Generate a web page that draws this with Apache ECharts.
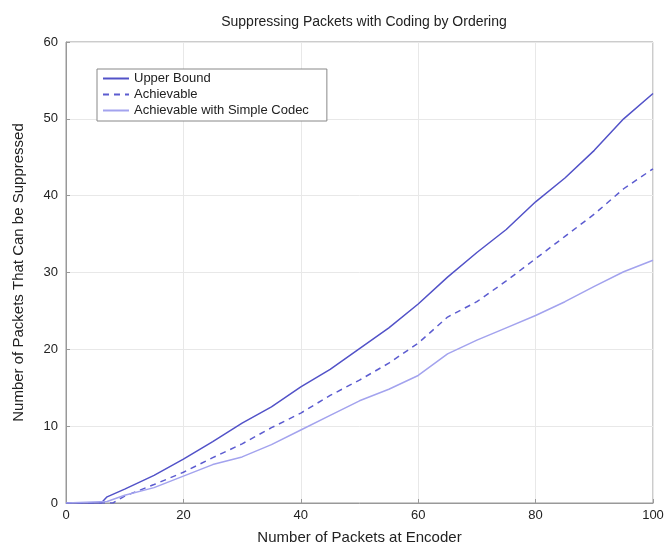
<!DOCTYPE html>
<html>
<head>
<meta charset="utf-8">
<script src="https://cdn.jsdelivr.net/npm/echarts@6/dist/echarts.min.js"></script>
<style>
  html, body { margin: 0; padding: 0; background: #fff; }
  #main { width: 668px; height: 554px; }
</style>
</head>
<body>
<div id="main"></div>
<script>
// packets at encoder -> packets that can be suppressed
var upperX = [0, 6, 7, 10, 15, 20, 25, 30, 35, 40, 45, 50, 55, 60, 65, 70, 75, 80, 85, 90, 95, 100];
var upperY = [0, 0, 0.8, 1.8, 3.6, 5.7, 8.0, 10.4, 12.5, 15.1, 17.4, 20.1, 22.8, 25.9, 29.4, 32.6, 35.6, 39.2, 42.3, 45.9, 50.0, 53.3];

var achX = [0, 8, 10, 15, 20, 25, 30, 35, 40, 45, 50, 55, 60, 65, 70, 75, 80, 85, 90, 95, 100];
var achY = [0, 0, 0.9, 2.4, 4.0, 5.9, 7.7, 9.8, 11.7, 14.0, 16.0, 18.2, 20.8, 24.2, 26.2, 28.9, 31.8, 34.7, 37.6, 40.9, 43.5];

var simpleX = [0, 7, 10, 15, 20, 25, 30, 35, 40, 45, 50, 55, 60, 65, 70, 75, 80, 85, 90, 95, 100];
var simpleY = [0, 0.2, 1.0, 2.0, 3.5, 5.0, 6.0, 7.6, 9.5, 11.4, 13.3, 14.8, 16.6, 19.4, 21.2, 22.8, 24.4, 26.2, 28.2, 30.1, 31.6];

var seriesNames = ['Upper Bound', 'Achievable', 'Achievable with Simple Codec'];

function pairs(xs, ys) {
  return xs.map(function (x, i) { return [x, ys[i]]; });
}

var chart = echarts.init(document.getElementById('main'));
var font = 'Liberation Sans, Arial, sans-serif';

chart.setOption({
  backgroundColor: '#fff',
  animation: false,
  title: {
    text: 'Suppressing Packets with Coding by Ordering',
    left: 359,
    top: 10,
    textAlign: 'center',
    textStyle: { fontFamily: font, fontSize: 14, fontWeight: 'normal', color: '#222' }
  },
  legend: {
    orient: 'vertical',
    left: 97,
    top: 69,
    itemWidth: 26,
    itemHeight: 10,
    itemGap: 3,
    padding: [3, 18, 4, 5],
    borderColor: '#888',
    borderWidth: 1,
    backgroundColor: '#fff',
    itemStyle: { opacity: 0 },
    textStyle: { fontFamily: font, fontSize: 13, color: '#222' },
    data: seriesNames
  },
  grid: {
    left: 66, right: 15, top: 42, bottom: 51,
    show: true,
    borderColor: '#999',
    borderWidth: 1
  },
  xAxis: {
    type: 'value',
    min: 0, max: 100, interval: 20,
    name: 'Number of Packets at Encoder',
    nameLocation: 'middle',
    nameGap: 27,
    nameTextStyle: { fontFamily: font, fontSize: 15, color: '#222' },
    axisLine: { lineStyle: { color: '#999' } },
    axisTick: { inside: true, length: 4, lineStyle: { color: '#999' } },
    axisLabel: { fontFamily: font, fontSize: 13, color: '#222', margin: 6 },
    splitLine: { lineStyle: { color: '#e8e8e8' } }
  },
  yAxis: {
    type: 'value',
    min: 0, max: 60, interval: 10,
    name: 'Number of Packets That Can be Suppressed',
    nameLocation: 'middle',
    nameGap: 40,
    nameTextStyle: { fontFamily: font, fontSize: 15, color: '#222' },
    axisLine: { show: true, lineStyle: { color: '#999' } },
    axisTick: { show: true, inside: true, length: 4, lineStyle: { color: '#999' } },
    axisLabel: { fontFamily: font, fontSize: 13, color: '#222', margin: 8 },
    splitLine: { lineStyle: { color: '#e8e8e8' } }
  },
  series: [
    {
      name: seriesNames[0], type: 'line', symbol: 'none',
      data: pairs(upperX, upperY),
      lineStyle: { color: '#5252c8', width: 1.5 },
      itemStyle: { color: '#5252c8' }
    },
    {
      name: seriesNames[1], type: 'line', symbol: 'none',
      data: pairs(achX, achY),
      lineStyle: { color: '#5c5cd0', width: 1.5, type: [6, 5] },
      itemStyle: { color: '#5c5cd0' }
    },
    {
      name: seriesNames[2], type: 'line', symbol: 'none',
      data: pairs(simpleX, simpleY),
      lineStyle: { color: '#a3a3ee', width: 1.5 },
      itemStyle: { color: '#a3a3ee' }
    }
  ]
});
</script>
</body>
</html>
